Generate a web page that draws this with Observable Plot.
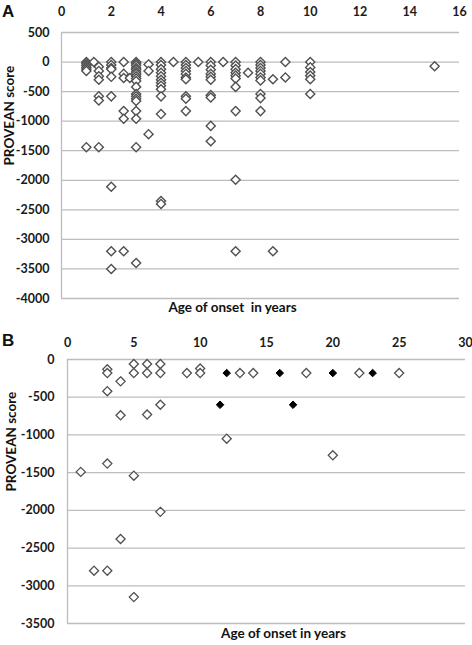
<!DOCTYPE html>
<html><head><meta charset="utf-8">
<script src="https://cdn.jsdelivr.net/npm/d3@7"></script>
<script src="https://cdn.jsdelivr.net/npm/@observablehq/plot@0.6"></script>
<style>
body{margin:0;background:#fff;font-family:Lato,sans-serif}
#wrap{position:relative;width:472px;height:645px;background:#fff}
.pl{position:absolute;line-height:1;font:bold 17px "Liberation Sans",Arial,sans-serif;color:#111}
</style></head><body>
<div id="wrap">
<div id="a" style="position:absolute;left:0;top:0"></div>
<div id="b" style="position:absolute;left:0;top:320px"></div>
<div class="pl" style="left:2px;top:2px">A</div>
<div class="pl" style="left:2px;top:331px">B</div>
</div>
<script>
// Panel A: age columns and the PROVEAN scores read at each age
const ageA = [1, 1.3, 1.5, 2, 2.5, 2.75, 3, 3.5, 4, 4.5, 5, 5.5, 6, 6.5, 7, 7.5, 8, 8.5, 9, 10, 15];
const scoresA = [
  [0,-30,-60,-90,-120,-150,-1440],
  [0],
  [-80,-150,-240,-300,-580,-650,-1440],
  [0,-50,-100,-120,-250,-580,-2110,-3200,-3500],
  [0,-200,-270,-830,-960,-3200],
  [-270],
  [0,-30,-60,-100,-130,-170,-200,-240,-280,-320,-420,-540,-580,-620,-660,-830,-960,-1440,-3400],
  [-40,-150,-1220],
  [0,-50,-120,-180,-240,-300,-350,-400,-460,-580,-880,-2350,-2400],
  [0],
  [0,-50,-100,-150,-200,-260,-290,-580,-620,-830],
  [0],
  [0,-60,-130,-200,-250,-300,-560,-600,-1080,-1340],
  [0],
  [0,-60,-120,-180,-230,-280,-420,-830,-1990,-3200],
  [-180],
  [0,-50,-100,-150,-200,-260,-310,-540,-610,-830],
  [-290,-3200],
  [0,-260],
  [0,-90,-170,-230,-290,-540],
  [-70]
];
const xTicksA = [0,2,4,6,8,10,12,14,16];
const yTicksA = [500,0,-500,-1000,-1500,-2000,-2500,-3000,-3500,-4000];

// Panel B
const ageBOpen = [1,2,3,3,3,3,3,4,4,4,5,5,5,5,6,6,6,7,7,7,7,9,10,10,12,13,14,18,20,22,25];
const scoreBOpen = [-1490,-2800,-2800,-1380,-130,-180,-420,-290,-740,-2380,-60,-180,-1540,-3150,-60,-180,-730,-60,-180,-600,-2020,-180,-120,-180,-1050,-180,-180,-180,-1270,-180,-180];
const ageBFilled = [11.5,12,16,17,20,23];
const scoreBFilled = [-600,-180,-180,-600,-180,-180];
const xTicksB = [0,5,10,15,20,25,30];
const yTicksB = [0,-500,-1000,-1500,-2000,-2500,-3000,-3500];

const xTitle = "Age of onset\u00a0 in years";
const xTitleB = "Age of onset in years";
const yTitle = "PROVEAN score";

const dataA = ageA.flatMap((a, i) => scoresA[i].map(s => ({age: a, score: s})));
const dataBOpen = ageBOpen.map((a, i) => ({age: a, score: scoreBOpen[i]}));
const dataBFilled = ageBFilled.map((a, i) => ({age: a, score: scoreBFilled[i]}));

const gridColor = "#bdbdbd";
const fmt = d => String(d);
const tickFont = {fontSize: 12.5, fontWeight: "bold", fill: "#1a1a1a", tickFormat: fmt, label: null, tickSize: 0};
const style = {fontFamily: "Lato, sans-serif", fontSize: "12.5px", fontWeight: "bold", color: "#1a1a1a", background: "white"};

const plotA = Plot.plot({
  width: 472, height: 320,
  marginLeft: 61, marginRight: 13, marginTop: 32, marginBottom: 22,
  style,
  x: {domain: [0, 16]},
  y: {domain: [-4000, 500]},
  marks: [
    Plot.gridY(yTicksA, {stroke: gridColor, strokeOpacity: 1, strokeWidth: 1.3}),
    Plot.ruleX([0], {stroke: gridColor, strokeWidth: 1.3}),
    Plot.axisX(xTicksA, {anchor: "top", tickPadding: 17, ...tickFont}),
    Plot.axisY(yTicksA, {anchor: "left", tickPadding: 12, ...tickFont}),
    Plot.dot(dataA, {x: "age", y: "score", symbol: "diamond2", r: 4.1, stroke: "#505050", fill: "white", strokeWidth: 1.4}),
    Plot.text([xTitle], {frameAnchor: "bottom", dx: -28, dy: 13, fontSize: 13.5, fontWeight: "bold", fill: "#111"}),
    Plot.text([yTitle], {frameAnchor: "left", rotate: -90, dx: -52, fontSize: 13.5, fontWeight: "bold", fill: "#111"})
  ]
});
document.getElementById("a").append(plotA);

const plotB = Plot.plot({
  width: 472, height: 325,
  marginLeft: 67, marginRight: 7, marginTop: 39, marginBottom: 22,
  style,
  x: {domain: [0, 30]},
  y: {domain: [-3500, 0]},
  marks: [
    Plot.gridY(yTicksB, {stroke: gridColor, strokeOpacity: 1, strokeWidth: 1.3}),
    Plot.ruleX([0], {stroke: gridColor, strokeWidth: 1.3}),
    Plot.axisX(xTicksB, {anchor: "top", tickPadding: 13, ...tickFont}),
    Plot.axisY(yTicksB, {anchor: "left", tickPadding: 13, ...tickFont}),
    Plot.dot(dataBOpen, {x: "age", y: "score", symbol: "diamond2", r: 4.1, stroke: "#505050", fill: "white", strokeWidth: 1.3}),
    Plot.dot(dataBFilled, {x: "age", y: "score", symbol: "diamond2", r: 3.4, stroke: "black", fill: "black", strokeWidth: 1}),
    Plot.text([xTitleB], {frameAnchor: "bottom", dx: 17, dy: 14, fontSize: 13.5, fontWeight: "bold", fill: "#111"}),
    Plot.text([yTitle], {frameAnchor: "left", rotate: -90, dx: -56, fontSize: 13.5, fontWeight: "bold", fill: "#111"})
  ]
});
document.getElementById("b").append(plotB);
</script>
</body></html>
